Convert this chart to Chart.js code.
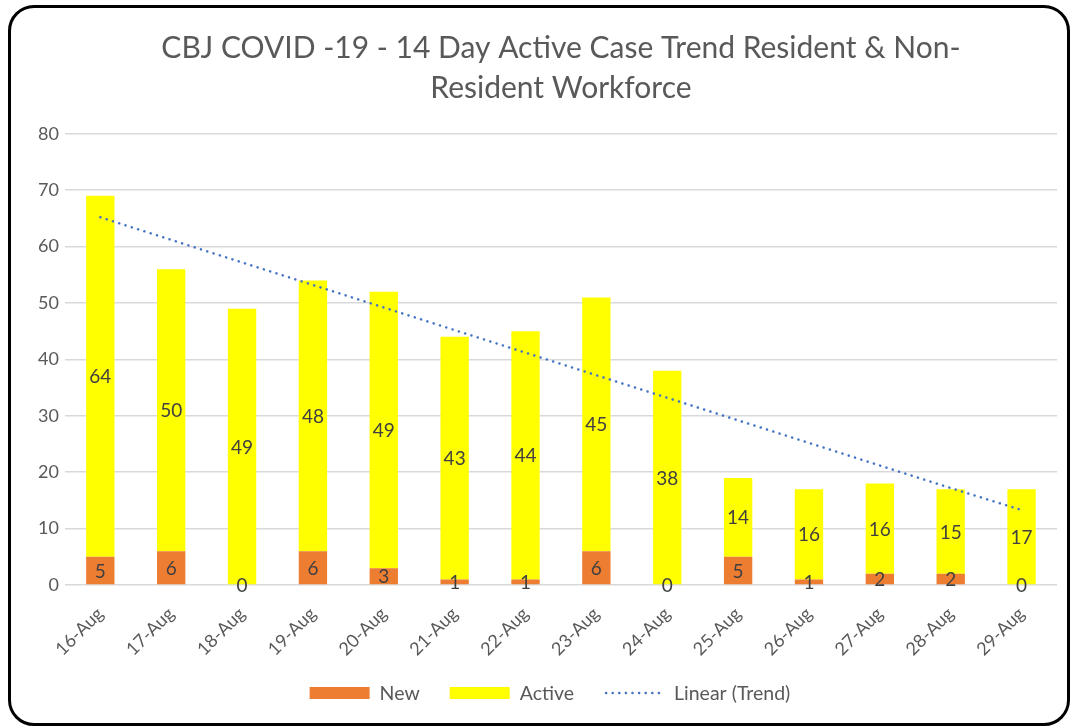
<!DOCTYPE html>
<html>
<head>
<meta charset="utf-8">
<script src="https://cdn.jsdelivr.net/npm/chart.js@4.4.0/dist/chart.umd.min.js"></script>
<style>
  html, body { margin: 0; padding: 0; background: #fff; }
  #wrap { position: relative; width: 1071px; height: 728px; overflow: hidden; }
  #c { position: absolute; left: 0; top: 0; }
  #frame { position: absolute; left: 8px; top: 5px; width: 1056px; height: 715px;
           border: 3px solid #000; border-radius: 26px; pointer-events: none; }
</style>
</head>
<body>
<div id="wrap">
  <canvas id="c" width="1071" height="728"></canvas>
  <div id="frame"></div>
</div>
<script>
const titleLines = ['CBJ COVID -19 - 14 Day Active Case Trend Resident & Non-', 'Resident Workforce'];
const categories = ['16-Aug','17-Aug','18-Aug','19-Aug','20-Aug','21-Aug','22-Aug','23-Aug','24-Aug','25-Aug','26-Aug','27-Aug','28-Aug','29-Aug'];
const newCases = [5, 6, 0, 6, 3, 1, 1, 6, 0, 5, 1, 2, 2, 0];
const activeCases = [64, 50, 49, 48, 49, 43, 44, 45, 38, 14, 16, 16, 15, 17];
// trend line values
const trendValues = [65.2, 61.2, 57.2, 53.2, 49.2, 45.2, 41.2, 37.2, 33.2, 29.2, 25.2, 21.2, 17.2, 13.3];
const yTicks = [0, 10, 20, 30, 40, 50, 60, 70, 80];

const FONT = 'Lato, "Open Sans", sans-serif';

const labelPlugin = {
  id: 'barLabels',
  afterDatasetsDraw(chart) {
    const ctx = chart.ctx;
    ctx.save();
    ctx.font = '19px ' + FONT;
    ctx.fillStyle = '#404040';
    ctx.textAlign = 'center';
    ctx.textBaseline = 'middle';
    [0, 1].forEach(di => {
      const meta = chart.getDatasetMeta(di);
      const data = chart.data.datasets[di].data;
      meta.data.forEach((el, i) => {
        const p = el.getProps(['x', 'y', 'base'], true);
        const cy = (p.y + p.base) / 2;
        ctx.fillText(String(data[i]), p.x, cy + 1);
      });
    });
    ctx.restore();
  }
};

const legendPlugin = {
  id: 'customLegend',
  afterDraw(chart) {
    const ctx = chart.ctx;
    const ds = chart.data.datasets;
    ctx.save();
    ctx.font = '19.5px ' + FONT;
    ctx.textBaseline = 'middle';
    const boxW = 60, gapText = 10, gapItem = 30;
    const widths = ds.map(d => boxW + gapText + ctx.measureText(d.label).width);
    const total = widths.reduce((a, b) => a + b, 0) + gapItem * (ds.length - 1);
    const center = (chart.chartArea.left + chart.chartArea.right) / 2 - 11;
    let x = center - total / 2;
    const y = 693;
    ds.forEach((d, i) => {
      if (d.type === 'line') {
        ctx.strokeStyle = d.borderColor;
        ctx.lineWidth = 2.5;
        ctx.lineCap = 'round';
        ctx.setLineDash([0.1, 6.5]);
        ctx.beginPath();
        ctx.moveTo(x + 2, y);
        ctx.lineTo(x + boxW - 2, y);
        ctx.stroke();
        ctx.setLineDash([]);
      } else {
        ctx.fillStyle = d.backgroundColor;
        ctx.fillRect(x, y - 6, boxW, 12);
      }
      ctx.fillStyle = '#595959';
      ctx.textAlign = 'left';
      ctx.fillText(d.label, x + boxW + gapText, y + 1);
      x += widths[i] + gapItem;
    });
    ctx.restore();
  }
};

new Chart(document.getElementById('c'), {
  data: {
    labels: categories,
    datasets: [
      { type: 'bar', label: 'New', data: newCases, backgroundColor: '#ED7D31', stack: 's', order: 2,
        barPercentage: 0.4, categoryPercentage: 1.0 },
      { type: 'bar', label: 'Active', data: activeCases, backgroundColor: '#FFFF00', stack: 's', order: 2,
        barPercentage: 0.4, categoryPercentage: 1.0 },
      { type: 'line', label: 'Linear (Trend)', data: trendValues, borderColor: '#4472C4',
        borderWidth: 2.5, borderDash: [0.1, 6.5], borderCapStyle: 'round', pointRadius: 0,
        fill: false, tension: 0, order: 1 }
    ]
  },
  options: {
    responsive: false,
    animation: false,
    layout: { padding: { left: 32, right: 14, top: 22, bottom: 58 } },
    plugins: {
      legend: { display: false },
      tooltip: { enabled: false },
      title: {
        display: true, text: titleLines, color: '#595959', fullSize: false,
        font: { family: FONT, size: 30, weight: 'normal', lineHeight: 1.33 },
        padding: { top: 6, bottom: 26 }
      }
    },
    scales: {
      x: {
        stacked: true,
        grid: { display: false },
        border: { display: false },
        ticks: { color: '#595959', font: { family: FONT, size: 18 }, maxRotation: 45, minRotation: 45, padding: 10 }
      },
      y: {
        stacked: true,
        min: 0, max: 80,
        afterBuildTicks(axis) { axis.ticks = yTicks.map(v => ({ value: v })); },
        grid: { color: '#D9D9D9', lineWidth: 1.5, drawTicks: false },
        border: { display: false },
        ticks: { color: '#595959', font: { family: FONT, size: 18 }, padding: 6 }
      }
    }
  },
  plugins: [labelPlugin, legendPlugin]
});
</script>
</body>
</html>
